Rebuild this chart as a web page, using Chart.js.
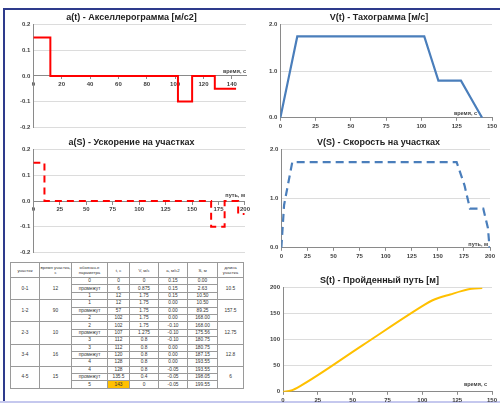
<!DOCTYPE html>
<html>
<head>
<meta charset="utf-8">
<script src="https://cdn.jsdelivr.net/npm/chart.js@4.4.1/dist/chart.umd.min.js"></script>
<style>
  body { margin: 0; background: #fff; width: 500px; height: 406px; overflow: hidden; position: relative; font-family: "Liberation Sans", Arial, sans-serif; }
  .frame { position: absolute; left: 3px; top: 8px; width: 497px; height: 392px; border-top: 2px solid #2E3B8C; border-left: 2px solid #2E3B8C; }
  .bottom { position: absolute; left: 0; top: 401px; width: 500px; height: 2px; background: #C5C8EE; }
  .box { position: absolute; }
  #tbl { position: absolute; left: 10px; top: 262px; border-collapse: collapse; table-layout: fixed; color: #333; }
  #tbl td, #tbl th { border: 0.6px solid #9a9a9a; padding: 0; text-align: center; overflow: hidden; white-space: nowrap; }
  #tbl th { font-size: 4.3px; font-weight: normal; line-height: 5px; height: 14px; white-space: normal; }
  #tbl td { font-size: 4.8px; line-height: 6px; height: 6.4px; }
  #tbl td.hl { background: #FFC000; }
</style>
</head>
<body>
<div class="frame"></div>
<div class="bottom"></div>

<div class="box" style="left:8px;top:10px"><canvas id="c1" width="244" height="125"></canvas></div>
<div class="box" style="left:258px;top:10px"><canvas id="c2" width="242" height="122"></canvas></div>
<div class="box" style="left:8px;top:135px"><canvas id="c3" width="244" height="124"></canvas></div>
<div class="box" style="left:258px;top:135px"><canvas id="c4" width="242" height="127"></canvas></div>
<div class="box" style="left:258px;top:272px"><canvas id="c5" width="242" height="134"></canvas></div>

<table id="tbl">
  <colgroup>
    <col style="width:29px"><col style="width:32px"><col style="width:36px"><col style="width:22px">
    <col style="width:29px"><col style="width:29px"><col style="width:30px"><col style="width:26px">
  </colgroup>
  <thead>
    <tr>
      <th>участок</th><th>время участка, с</th><th>обознач-е параметра</th><th>t, c</th>
      <th>V, м/с</th><th>a, м/с2</th><th>S, м</th><th>длина участка</th>
    </tr>
  </thead>
  <tbody id="tbody"></tbody>
</table>

<script>
// Table data (one row per point)
const pointNames = ["0", "промежут", "1", "1", "промежут", "2", "2", "промежут", "3", "3", "промежут", "4", "4", "промежут", "5"];
const timeT = [0, 6, 12, 12, 57, 102, 102, 107, 112, 112, 120, 128, 128, 135.5, 143];
const speedV = [0, 0.875, 1.75, 1.75, 1.75, 1.75, 1.75, 1.275, 0.8, 0.8, 0.8, 0.8, 0.8, 0.4, 0];
const accelA = [0.15, 0.15, 0.15, 0, 0, 0, -0.10, -0.10, -0.10, 0, 0, 0, -0.05, -0.05, -0.05];
const distS = [0, 2.63, 10.5, 10.5, 89.25, 168, 168, 175.56, 180.75, 180.75, 187.15, 193.55, 193.55, 198.05, 199.55];

// Segments
const segNames = ["0-1", "1-2", "2-3", "3-4", "4-5"];
const segTimes = [12, 90, 10, 16, 15];
const segLengths = [10.5, 157.5, 12.75, 12.8, 6];

// Build table
const tbody = document.getElementById("tbody");
timeT.forEach((t, i) => {
  const tr = document.createElement("tr");
  let html = "";
  if (i % 3 === 0) {
    const s = i / 3;
    html += `<td rowspan="3">${segNames[s]}</td><td rowspan="3">${segTimes[s]}</td>`;
  }
  html += `<td>${pointNames[i]}</td>`;
  html += `<td${i === timeT.length - 1 ? ' class="hl"' : ''}>${t}</td>`;
  html += `<td>${speedV[i]}</td>`;
  html += `<td>${accelA[i].toFixed(2)}</td>`;
  html += `<td>${distS[i].toFixed(2)}</td>`;
  if (i % 3 === 0) html += `<td rowspan="3">${segLengths[i / 3]}</td>`;
  tr.innerHTML = html;
  tbody.appendChild(tr);
});

// small label near the end of the x axis
const axisNote = {
  id: "axisNote",
  afterDraw(chart, args, opts) {
    if (!opts.text) return;
    const { ctx, scales: { x, y } } = chart;
    ctx.save();
    ctx.font = 'bold 5.5px "Liberation Sans"';
    ctx.fillStyle = "#404040";
    ctx.textAlign = "right";
    ctx.textBaseline = "alphabetic";
    ctx.fillText(opts.text, x.right - opts.dx, y.getPixelForValue(0) - opts.dy);
    ctx.restore();
  }
};

const tickFont = { family: "Liberation Sans", size: 6, weight: "bold" };

function makeChart(id, o) {
  new Chart(document.getElementById(id), {
    type: "line",
    data: {
      datasets: [{
        data: o.xs.map((x, i) => ({ x: x, y: o.ys[i] })),
        borderColor: o.color,
        borderWidth: o.width || 2,
        borderDash: o.dash || [],
        pointRadius: 0,
        fill: false,
        tension: 0,
        cubicInterpolationMode: o.smooth ? "monotone" : "default"
      }]
    },
    options: {
      responsive: false,
      animation: false,
      layout: { padding: o.padding },
      plugins: {
        legend: { display: false },
        tooltip: { enabled: false },
        title: {
          display: true,
          text: o.title,
          color: "#222",
          font: { family: "Liberation Sans", size: 9, weight: "bold" },
          padding: { top: 2, bottom: 2 }
        },
        axisNote: { text: o.note, dx: o.noteDx, dy: o.noteDy }
      },
      scales: {
        x: {
          type: "linear",
          position: o.xAtZero ? { y: 0 } : "bottom",
          min: 0,
          max: o.xMax,
          afterBuildTicks: (s) => { s.ticks = o.xTicks.map(v => ({ value: v })); },
          ticks: { font: tickFont, color: "#404040", padding: 2, maxRotation: 0, autoSkip: false },
          grid: { drawOnChartArea: false, color: "#8a8a8a", tickLength: 3 },
          border: { color: "#8a8a8a" }
        },
        y: {
          min: o.yMin,
          max: o.yMax,
          afterBuildTicks: (s) => { s.ticks = o.yTicks.map(v => ({ value: v })); },
          ticks: { font: tickFont, color: "#404040", padding: 3, callback: o.yFmt },
          grid: { color: "#DCDCDC", drawTicks: false },
          border: { color: "#8a8a8a" }
        }
      }
    },
    plugins: [axisNote]
  });
}

const timeTicks20 = [0, 20, 40, 60, 80, 100, 120, 140];
const timeTicks25 = [0, 25, 50, 75, 100, 125, 150];
const distTicks = [0, 25, 50, 75, 100, 125, 150, 175, 200];
const accelTicks = [-0.2, -0.1, 0, 0.1, 0.2];
const speedTicks = [0, 1, 2];
const pathTicks = [0, 50, 100, 150, 200];

// S(t) without repeated boundary rows
const tUnique = timeT.filter((t, i) => i === 0 || t !== timeT[i - 1]);
const sUnique = distS.filter((s, i) => i === 0 || timeT[i] !== timeT[i - 1]);

makeChart("c1", {
  title: "a(t) - Акселлерограмма [м/с2]",
  xs: timeT, ys: accelA, color: "#FF0000", width: 2,
  xAtZero: true, xMax: 150, xTicks: timeTicks20,
  yMin: -0.2, yMax: 0.2, yTicks: accelTicks, yFmt: v => v.toFixed(1),
  note: "время, с", noteDx: 0, noteDy: 3,
  padding: { left: 9, right: 6, top: 0, bottom: 8 }
});

makeChart("c2", {
  title: "V(t) - Тахограмма [м/с]",
  xs: timeT, ys: speedV, color: "#4A7EBB", width: 2.2,
  xMax: 150, xTicks: timeTicks25,
  yMin: 0, yMax: 2, yTicks: speedTicks, yFmt: v => v.toFixed(1),
  note: "время, с", noteDx: 15, noteDy: 3,
  padding: { left: 8, right: 8, top: 0, bottom: 0 }
});

makeChart("c3", {
  title: "a(S) - Ускорение на участках",
  xs: distS, ys: accelA, color: "#FF0000", width: 2, dash: [7, 5],
  xAtZero: true, xMax: 200, xTicks: distTicks,
  yMin: -0.2, yMax: 0.2, yTicks: accelTicks, yFmt: v => v.toFixed(1),
  note: "путь, м", noteDx: 0, noteDy: 4,
  padding: { left: 9, right: 6, top: 0, bottom: 4 }
});

makeChart("c4", {
  title: "V(S) - Скорость на участках",
  xs: distS, ys: speedV, color: "#4A7EBB", width: 2.2, dash: [8, 5],
  xMax: 200, xTicks: distTicks,
  yMin: 0, yMax: 2, yTicks: speedTicks, yFmt: v => v.toFixed(1),
  note: "путь, м", noteDx: 2, noteDy: 2,
  padding: { left: 9, right: 10, top: 0, bottom: 0 }
});

makeChart("c5", {
  title: "S(t) - Пройденный путь [м]",
  xs: tUnique, ys: sUnique, color: "#FFC000", width: 2, smooth: true,
  xMax: 150, xTicks: timeTicks25,
  yMin: 0, yMax: 200, yTicks: pathTicks, yFmt: v => v,
  note: "время, с", noteDx: 5, noteDy: 6,
  padding: { left: 9, right: 8, top: 1, bottom: 0 }
});
</script>
</body>
</html>
